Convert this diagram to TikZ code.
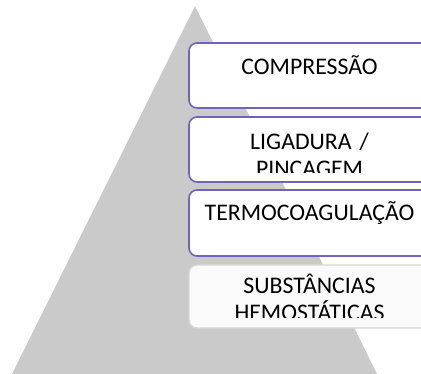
\documentclass[tikz,border=0pt]{standalone}
\usepackage{fontspec}
\setmainfont{Carlito}
\definecolor{tri}{RGB}{202,202,202}
\definecolor{purp}{RGB}{112,98,192}
\definecolor{lgray}{RGB}{215,215,215}
\definecolor{boxfill}{RGB}{250,250,250}
\begin{document}
\begin{tikzpicture}[x=1pt,y=-1pt,
  lvlbox/.style={draw=purp,line width=1.6pt,rounded corners=8pt,fill=white},
  lastbox/.style={draw=lgray,line width=1.4pt,rounded corners=8pt,fill=boxfill},
  lvltext/.style={anchor=base,text width=240pt,align=center,inner sep=0pt,
    font=\fontsize{23.8}{26.5}\selectfont,text=black}]
\useasboundingbox (0,0) rectangle (421,374);
\begin{scope}
\clip (0,0) rectangle (421,374);
\path[fill=tri] (195,6) coordinate (apex) -- (380,380) -- (9,380) -- cycle;
\draw[lvlbox] (189,43) rectangle (431,108);
\draw[lvlbox] (189,117) rectangle (431,182);
\draw[lvlbox] (189,190) rectangle (431,256);
\draw[lastbox] (189,265) rectangle (431,328);
\node[lvltext] (c) at (309.5,75) {COMPRESSÃO};
\begin{scope}
\clip (189,117) rectangle (431,172.5);
\node[lvltext] (l) at (309.5,150) {LIGADURA /\\PINCAGEM};
\end{scope}
\node[lvltext] (t) at (309.5,221) {TERMOCOAGULAÇÃO};
\begin{scope}
\clip (189,265) rectangle (431,318);
\node[lvltext] (s) at (309.5,294) {SUBSTÂNCIAS\\HEMOSTÁTICAS};
\end{scope}
\end{scope}
\end{tikzpicture}
\end{document}
